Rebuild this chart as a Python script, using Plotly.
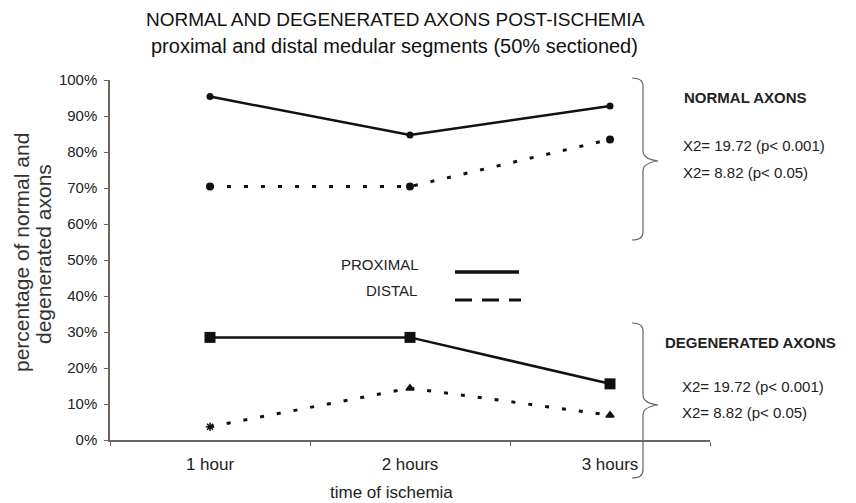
import plotly.graph_objects as go

categories = ["1 hour", "2 hours", "3 hours"]
normal_proximal = [95.4, 84.7, 92.8]
normal_distal = [70.4, 70.4, 83.5]
degen_proximal = [28.5, 28.5, 15.6]
degen_distal = [3.7, 14.4, 6.9]
y_ticks = [0, 10, 20, 30, 40, 50, 60, 70, 80, 90, 100]
y_ticklabels = [f"{v}%" for v in y_ticks]

# page body has an 8px margin; the figure is drawn offset by it
OFF = 8
W, H = 856 - OFF, 503 - OFF
L, R, T, B = 110 - OFF, 146, 80 - OFF, 63
PW, PH = W - L - R, H - T - B

def px(x):
    # x in screen pixels -> paper fraction
    return (x - OFF - L) / PW

def py(y):
    return (H - B - (y - OFF)) / PH

FONT = "Liberation Sans, Arial, sans-serif"
ink = "#111111"
txt = "#222222"
axis_col = "#666666"

fig = go.Figure()
fig.add_trace(go.Scatter(x=categories, y=normal_proximal, mode="lines+markers",
                         line=dict(color=ink, width=2.5),
                         marker=dict(symbol="circle", size=7, color=ink)))
fig.add_trace(go.Scatter(x=categories, y=normal_distal, mode="lines+markers",
                         line=dict(color=ink, width=3, dash="4px,13px"),
                         marker=dict(symbol="circle", size=8, color=ink)))
fig.add_trace(go.Scatter(x=categories, y=degen_proximal, mode="lines+markers",
                         line=dict(color=ink, width=2.5),
                         marker=dict(symbol="square", size=11, color=ink)))
fig.add_trace(go.Scatter(x=categories, y=degen_distal, mode="lines+markers",
                         line=dict(color=ink, width=3, dash="4px,13px"),
                         marker=dict(symbol=["asterisk-open", "triangle-up", "triangle-up"], size=7,
                                     color=ink, line=dict(color=ink, width=1.5))))

def brace(x0, xm, xt, y0, ym, y1):
    # right-pointing curly brace
    p = (f"M {px(x0)},{py(y0)} Q {px(xm)},{py(y0)} {px(xm)},{py(y0+8)} "
         f"L {px(xm)},{py(ym-10)} Q {px(xm)},{py(ym-2)} {px(xt)},{py(ym)} "
         f"Q {px(xm)},{py(ym+2)} {px(xm)},{py(ym+10)} "
         f"L {px(xm)},{py(y1-8)} Q {px(xm)},{py(y1)} {px(x0)},{py(y1)}")
    return dict(type="path", xref="paper", yref="paper", path=p,
                line=dict(color="#666666", width=1.2), layer="above")

shapes = [
    brace(632, 643, 658, 78, 161, 240),
    brace(632, 643, 658, 323, 405, 478),
    dict(type="line", xref="paper", yref="paper", x0=px(455), x1=px(519), y0=py(272), y1=py(272),
         line=dict(color=ink, width=3.5)),
    dict(type="line", xref="paper", yref="paper", x0=px(455), x1=px(521), y0=py(300), y1=py(300),
         line=dict(color=ink, width=3, dash="17px,10px")),
]

ann_font = dict(family=FONT, size=15, color=txt)
annotations = [
    dict(text="PROXIMAL", x=px(421), y=py(264), xanchor="right", yanchor="middle"),
    dict(text="DISTAL", x=px(419), y=py(290), xanchor="right", yanchor="middle"),
    dict(text="<b>NORMAL AXONS</b>", x=px(682), y=py(97), xanchor="left", yanchor="middle"),
    dict(text="X2= 19.72 (p< 0.001)", x=px(681), y=py(145), xanchor="left", yanchor="middle"),
    dict(text="X2= 8.82 (p< 0.05)", x=px(681), y=py(172), xanchor="left", yanchor="middle"),
    dict(text="<b>DEGENERATED AXONS</b>", x=px(663), y=py(342), xanchor="left", yanchor="middle"),
    dict(text="X2= 19.72 (p< 0.001)", x=px(680), y=py(386), xanchor="left", yanchor="middle"),
    dict(text="X2= 8.82 (p< 0.05)", x=px(680), y=py(412), xanchor="left", yanchor="middle"),
    dict(text="NORMAL AND DEGENERATED AXONS POST-ISCHEMIA", x=px(395), y=py(20),
         xanchor="center", yanchor="middle", font=dict(family=FONT, size=19, color=ink)),
    dict(text="proximal and distal medular segments (50% sectioned)", x=px(394), y=py(46),
         xanchor="center", yanchor="middle", font=dict(family=FONT, size=20, color=ink)),
    dict(text="percentage of normal and", x=px(22), y=py(253), xanchor="center", yanchor="middle",
         textangle=-90, font=dict(family=FONT, size=21, color="#333333")),
    dict(text="degenerated axons", x=px(44), y=py(254), xanchor="center", yanchor="middle",
         textangle=-90, font=dict(family=FONT, size=21, color="#333333")),
    dict(text="time of ischemia", x=px(391), y=py(492), xanchor="center", yanchor="middle",
         font=dict(family=FONT, size=17, color=txt)),
]
for a in annotations:
    a.update(xref="paper", yref="paper", showarrow=False)
    a.setdefault("font", ann_font)

fig.update_layout(
    width=W, height=H,
    margin=dict(l=L, r=R, t=T, b=B),
    paper_bgcolor="white", plot_bgcolor="white",
    showlegend=False,
    shapes=shapes, annotations=annotations,
    font=dict(family=FONT, color=ink),
    xaxis=dict(type="category", range=[-0.5, 2.5], showline=True, linecolor=axis_col, linewidth=1.5,
               ticks="outside", tickson="boundaries", ticklen=4, tickcolor=axis_col,
               showgrid=False, zeroline=False, ticklabelstandoff=8,
               tickfont=dict(family=FONT, size=17, color=txt)),
    yaxis=dict(range=[0, 100], tickvals=y_ticks, ticktext=y_ticklabels, showline=True,
               linecolor=axis_col, linewidth=1.5, ticks="outside", ticklen=4, tickcolor=axis_col,
               showgrid=False, zeroline=False, ticklabelstandoff=4,
               tickfont=dict(family=FONT, size=15, color=txt)),
)

fig.write_html("out.html")
